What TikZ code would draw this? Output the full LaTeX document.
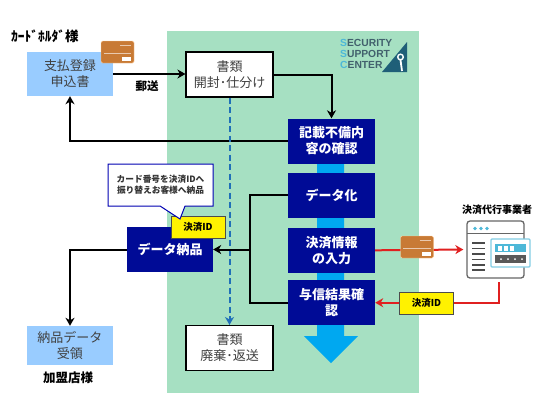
\documentclass[tikz,border=0pt]{standalone}
\usepackage{fontspec}
\setmainfont{Noto Sans CJK JP}
\newfontfamily\logofont{Liberation Sans}
\usepackage{xcolor}
\usetikzlibrary{arrows.meta,positioning,shapes.callouts,backgrounds}
\definecolor{ssgreen}{HTML}{A6E0C2}
\definecolor{ssnavy}{HTML}{000B96}
\definecolor{ssflow}{HTML}{00A8F0}
\definecolor{sslight}{HTML}{99CCFF}
\definecolor{sscard}{HTML}{C87A35}
\definecolor{ssdash}{HTML}{1F6FB8}
\definecolor{ssred}{HTML}{E02020}
\definecolor{ssteal}{HTML}{1F5F78}
\definecolor{ssicon}{HTML}{4DB8D8}
\definecolor{ssgray}{HTML}{666666}
\newcommand{\cardmarks}[1]{%
  \fill[white] ([shift={(-12,-6)}]#1.south east) rectangle ([shift={(-3,-2)}]#1.south east);
  \draw[white,opacity=.6,line width=.5pt] ([shift={(3,-10)}]#1.south west) -- ([shift={(-3,-10)}]#1.south east);
  \draw[white,opacity=.6,line width=.5pt] ([shift={(-14,4)}]#1.north east) -- ([shift={(-3,4)}]#1.north east);}

\begin{document}
\begin{tikzpicture}[x=1pt,y=-1pt,
   lightbox/.style={fill=sslight,minimum width=86pt,inner sep=0pt,align=center,
                    text=black!75,font=\fontsize{13}{16}\selectfont},
   paperbox/.style={draw=black,line width=1.1pt,fill=white,minimum width=87pt,
                    minimum height=45pt,inner sep=0pt,align=center,
                    text=black!75,font=\fontsize{13}{16}\selectfont},
   navybox/.style={fill=ssnavy,minimum width=87pt,minimum height=45pt,inner sep=0pt,
                   align=center,text=white,font=\fontsize{13}{16}\bfseries\selectfont},
   tag/.style={draw=black!70,fill=yellow,line width=.8pt,minimum width=54pt,
               minimum height=22pt,inner sep=0pt,font=\fontsize{9.5}{11}\bfseries\selectfont},
   paycard/.style={fill=sscard,draw=orange!40,rounded corners=1.5pt,minimum width=33pt,
                   minimum height=22pt,inner sep=0pt},
   caption/.style={font=\fontsize{#1}{#1}\bfseries\selectfont,inner sep=0pt},
   caption/.default=11.5,
   ln/.style={line width=2pt},
   ar/.style={ln,-{Stealth[length=8pt,width=9pt,inset=2.5pt]}},
   redar/.style={ar,ssred},
   panel/.style={draw=ssgray,line width=1.3pt,rounded corners=3pt,fill=white}]
  \useasboundingbox (0,0) rectangle (547,400);
  \begin{scope}[on background layer]
    \fill[ssgreen] (166.5,31) rectangle (419,393);
    \fill[ssflow] (317,141) -- (344,141) -- (344,336) -- (358,336) -- (331,363)
        -- (304,336) -- (317,336) -- cycle;
  \end{scope}
  % left column
  \node[lightbox,minimum height=44pt] (form) at (70,74) {支払登録\\申込書};
  \node[paycard] (card) at (117.5,52) {};
  \cardmarks{card}
  \node[caption=13.5] (holder) at (45,36) {ｶｰﾄﾞﾎﾙﾀﾞ様};
  \node[lightbox,minimum height=39pt] (receipt) at (70,345.5) {納品データ\\受領};
  \node[caption=12.5] (shop) at (68,378) {加盟店様};
  % papers
  \node[paperbox] (sorter) at (229.5,74.5) {書類\\開封･仕分け};
  \node[paperbox] (discard) at (229.5,348) {書類\\廃棄･返送};
  \node[caption] (mail) at (147,86) {郵送};
  % main flow
  \node[navybox] (check) at (331.5,141) {記載不備内\\容の確認};
  \node[navybox,below=9pt of check] (data) {データ化};
  \node[navybox,below=9.5pt of data] (pay) {決済情報\\の入力};
  \node[navybox,below=7pt of pay] (result) {与信結果確\\認};
  \node[navybox,minimum width=86pt] (deliver) at (170,249.5) {データ納品};
  \node[tag] (idone) at (198,227) {決済ID};
  \node[rectangle callout,draw=blue!70!black,fill=white,line width=1pt,
        minimum width=105pt,minimum height=42pt,inner sep=0pt,align=center,
        callout absolute pointer={(180,219)},callout pointer width=25pt,
        font=\fontsize{8.7}{11}\bfseries\selectfont,text=black!80] (note) at (160.5,185)
        {カード番号を決済IDへ\\振り替えお客様へ納品};
  % logo
  \node[anchor=north west,inner sep=0pt,align=left,text=ssteal!60!black!80,
        font=\logofont\fontsize{10.3}{11.3}\bfseries\selectfont] (logo) at (340,39)
        {\textcolor{ssicon}{S}ECURITY\\\textcolor{ssicon}{S}UPPORT\\\textcolor{ssicon}{C}ENTER};
  \fill[ssteal] (382,72) -- (407,42) -- (407,72) -- cycle;
  \draw[white,line width=1.4pt] (400.5,57) circle (2.8pt);
  \draw[white,line width=1.8pt] (400.5,60) -- (402,71);
  % provider
  \node[font=\fontsize{10}{12}\bfseries\selectfont,inner sep=0pt] (provider) at (497,210) {決済代行事業者};
  \node[panel,minimum width=57pt,minimum height=57pt,inner sep=0pt] (server) at (495.5,249.5) {};
  \draw[ssgray,line width=1pt] (467,233) -- (524,233);
  \foreach \x in {475,481,487} \fill[ssicon] (\x,228.5) circle (1.8pt);
  \foreach \y in {243,248.5,254,259.5,265,270} \draw[black!70,line width=1.6pt] (472,\y) -- (485,\y);
  \draw[ssicon!70,fill=white,line width=1.2pt,rounded corners=1pt] (491,239) rectangle (530,267);
  \fill[ssicon] (495,244) rectangle (526,252);
  \foreach \x in {500,506,512} \fill[white] (\x-2,245.5) rectangle (\x+2,250.5);
  \fill[black!65] (495,255) rectangle (526,263);
  \foreach \x in {501,508,515,522} \fill[white] (\x,259) circle (1pt);
  \coordinate (srvout) at (499,282);
  \coordinate (bus) at (250,249.5);
  % connectors
  \draw[ar] (form) -- (form-|sorter.west);
  \draw[ar] (sorter.east) -| (check.north);
  \draw[ar] (check.west) -| (form.south);
  \draw[ar,ssdash,dash pattern=on 6pt off 3.5pt] (sorter) -- (discard);
  \draw[ln] (data.west) -| (bus) |- (result.west);
  \draw[ar] (bus) -- (deliver.east);
  \draw[ar] (deliver.west) -| (receipt.north);
  \draw[redar,shorten >=3pt] (pay.east) -- (server.west);
  \draw[redar] (srvout) |- (result.east);
  \node[paycard] (cardtwo) at (417,247) {};
  \cardmarks{cardtwo}
  \node[tag] (idtwo) at (426.5,303) {決済ID};
\end{tikzpicture}
\end{document}
